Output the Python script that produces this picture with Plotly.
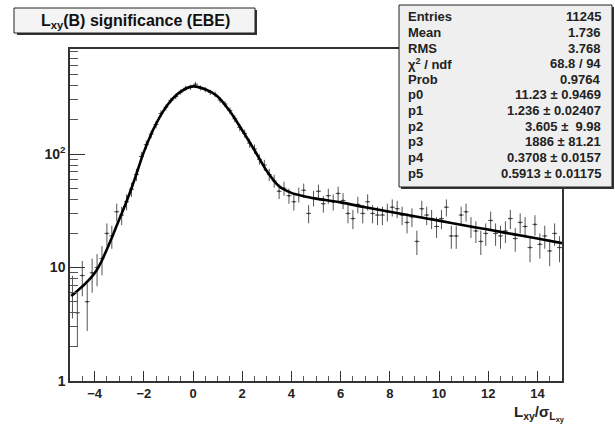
import numpy as np
import plotly.graph_objects as go

# ---------------- data ----------------
bin_centers = [round(-4.9 + 0.2 * i, 1) for i in range(100)]
counts = [
    6, 4, 8.5, 5, 9, 10, 12, 20, 19, 31,
    29, 38, 49, 66, 95, 121, 150, 182, 228, 258,
    297, 322, 352, 380, 388, 412, 383, 370, 350, 336,
    300, 276, 242, 205, 172, 152, 125, 111, 90, 80,
    66, 58, 47, 50, 43, 38, 44, 48, 30, 41,
    47, 36.5, 43, 38, 45, 39, 30, 27, 36, 30,
    38, 30, 29, 29, 31, 34, 33, 29, 25, 28,
    17, 33, 29, 27, 23, 27, 34, 19, 19, 29,
    31, 23, 21, 17, 20, 26, 20, 19, 21, 27,
    18, 25, 23, 15, 24, 16, 19, 14, 20, 15,
]
bin_half_width = [0.1] * 100

fit_x = [-4.95, -4.75, -4.5, -4.25, -4.0, -3.75, -3.5, -3.25, -3.0, -2.75,
         -2.5, -2.25, -2.0, -1.5, -1.0, -0.5, 0.0,
         0.5, 1.0, 1.5, 2.0, 2.5, 3.0, 3.5, 4.0, 4.5, 5.0, 6.0, 7.0, 8.0,
         9.0, 10.0, 11.0, 12.0, 13.0, 14.0, 15.0]
fit_y = [5.6, 6.1, 6.8, 7.7, 8.9, 11.0, 14.5, 19.5, 26.5, 36,
         50, 72, 104, 185, 278, 355, 395,
         372, 322, 238, 162, 108, 71, 52, 45.5, 42.5, 40.5, 37.5, 34, 31,
         28.3, 25.9, 23.6, 21.6, 19.7, 18.0, 16.4]

stat_names = ["Entries", "Mean", "RMS", "χ<sup>2</sup> / ndf", "Prob",
              "p0", "p1", "p2", "p3", "p4", "p5"]
stat_values = ["11245", "1.736", "3.768", "68.8 / 94", "0.9764",
               "11.23 ± 0.9469", "1.236 ± 0.02407", "3.605 ±  9.98",
               "1886 ± 81.21", "0.3708 ± 0.0157", "0.5913 ± 0.01175"]

x_tick_vals = [-4, -2, 0, 2, 4, 6, 8, 10, 12, 14]
y_tick_vals = [1, 10, 100]
y_tick_text = ["1", "10", "10<sup>2</sup>"]
y_minor_vals = [2, 3, 4, 5, 6, 7, 8, 9, 20, 30, 40, 50, 60, 70, 80, 90,
                200, 300, 400, 500, 600, 700, 800]

title_text = "L<sub>xy</sub>(B) significance (EBE)"
xaxis_title = "L<sub>xy</sub>/σ<sub>L<sub>xy</sub></sub>"

# ---------------- layout geometry ----------------
W, H = 615, 426
PL, PR, PT, PB = 70, 562, 49, 381
FONT = "Liberation Sans, Arial, Helvetica, sans-serif"


def px(x):
    return (x - PL) / (PR - PL)


def py(y):
    return (PB - y) / (PB - PT)


errs = np.sqrt(np.array(counts, dtype=float))

fig = go.Figure()
fig.add_trace(go.Scatter(
    x=bin_centers, y=counts, mode="markers",
    marker=dict(size=2, color="#333"),
    error_y=dict(type="data", array=errs, color="#555", thickness=1, width=0),
    error_x=dict(type="data", array=bin_half_width, color="#555", thickness=1, width=0),
    showlegend=False, hoverinfo="skip",
))
fig.add_trace(go.Scatter(
    x=fit_x, y=fit_y, mode="lines",
    line=dict(color="black", width=2.6, shape="spline", smoothing=0.8),
    showlegend=False, hoverinfo="skip",
))

shapes = []
# title box with shadow
shapes.append(dict(type="rect", xref="paper", yref="paper",
                   x0=px(17), x1=px(257), y0=py(35), y1=py(10),
                   fillcolor="#333", line=dict(width=0), layer="above"))
shapes.append(dict(type="rect", xref="paper", yref="paper",
                   x0=px(14), x1=px(255), y0=py(33), y1=py(8),
                   fillcolor="#f4f4f4", line=dict(color="#222", width=1), layer="above"))
# stats box with shadow
shapes.append(dict(type="rect", xref="paper", yref="paper",
                   x0=px(401), x1=px(614), y0=py(189), y1=py(7),
                   fillcolor="#333", line=dict(width=0), layer="above"))
shapes.append(dict(type="rect", xref="paper", yref="paper",
                   x0=px(399), x1=px(612), y0=py(187), y1=py(5),
                   fillcolor="#efefef", line=dict(color="#222", width=1), layer="above"))

annotations = []
annotations.append(dict(xref="paper", yref="paper", x=px(135), y=py(21),
                        text="<b>" + title_text + "</b>", showarrow=False,
                        xanchor="center", yanchor="middle",
                        font=dict(family=FONT, size=16, color="#111")))
for i, (n, v) in enumerate(zip(stat_names, stat_values)):
    yy = py(17 + 15.6 * i)
    annotations.append(dict(xref="paper", yref="paper", x=px(406), y=yy,
                            text="<b>" + n + "</b>", showarrow=False,
                            xanchor="left", yanchor="middle",
                            font=dict(family=FONT, size=13, color="#222")))
    annotations.append(dict(xref="paper", yref="paper", x=px(603), y=yy,
                            text="<b>" + v + "</b>", showarrow=False,
                            xanchor="right", yanchor="middle",
                            font=dict(family=FONT, size=13, color="#222")))
annotations.append(dict(xref="paper", yref="paper", x=px(567), y=py(413),
                        text="<b>" + xaxis_title + "</b>", showarrow=False,
                        xanchor="right", yanchor="middle",
                        font=dict(family=FONT, size=15, color="#222")))

fig.update_layout(
    width=W, height=H,
    margin=dict(l=PL, r=W - PR, t=PT, b=H - PB, pad=0),
    paper_bgcolor="white", plot_bgcolor="white",
    shapes=shapes, annotations=annotations,
    font=dict(family=FONT, size=13, color="#222"),
    xaxis=dict(
        range=[-5, 15], showgrid=False, zeroline=False,
        showline=True, linecolor="#333", linewidth=1.5, mirror=True,
        ticks="inside", ticklen=10, tickcolor="#333", tickwidth=1,
        tickmode="array", tickvals=x_tick_vals,
        tickfont=dict(family=FONT, size=13, color="#222", weight="bold"),
        minor=dict(ticks="inside", ticklen=5, tickcolor="#555", dtick=0.5, tick0=0, showgrid=False),
    ),
    yaxis=dict(
        type="log", range=[0, 2.926], showgrid=False, zeroline=False,
        showline=True, linecolor="#333", linewidth=1.5, mirror=True,
        ticks="inside", ticklen=15, tickcolor="#333", tickwidth=1,
        tickmode="array", tickvals=y_tick_vals, ticktext=y_tick_text,
        tickfont=dict(family=FONT, size=14, color="#222", weight="bold"),
        minor=dict(ticks="inside", ticklen=8, tickcolor="#555", tickmode="array",
                   tickvals=y_minor_vals, showgrid=False),
    ),
)

fig.write_html("out.html")
